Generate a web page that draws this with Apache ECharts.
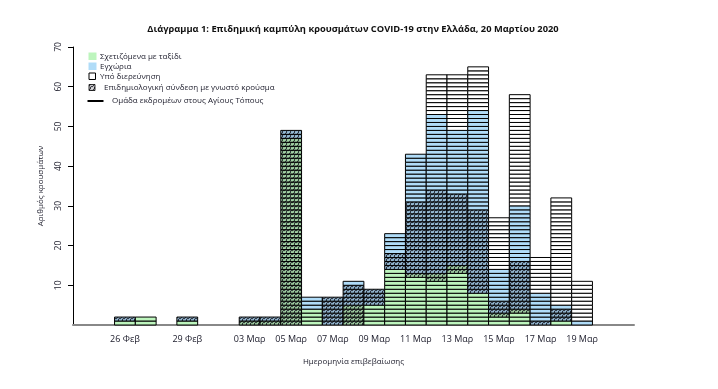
<!DOCTYPE html>
<html>
<head>
<meta charset="utf-8">
<script src="https://cdn.jsdelivr.net/npm/echarts@6/dist/echarts.min.js"></script>
<style>html,body{margin:0;padding:0;background:#fff}#c{width:718px;height:389px}</style>
</head>
<body>
<div id="c"></div>
<script>
// ---- data ----
const days = ['26 Φεβ','27 Φεβ','28 Φεβ','29 Φεβ','01 Μαρ','02 Μαρ','03 Μαρ','04 Μαρ','05 Μαρ','06 Μαρ','07 Μαρ','08 Μαρ','09 Μαρ','10 Μαρ','11 Μαρ','12 Μαρ','13 Μαρ','14 Μαρ','15 Μαρ','16 Μαρ','17 Μαρ','18 Μαρ','19 Μαρ'];
const tickLabels = ['26 Φεβ','29 Φεβ','03 Μαρ','05 Μαρ','07 Μαρ','09 Μαρ','11 Μαρ','13 Μαρ','15 Μαρ','17 Μαρ','19 Μαρ'];
// cases per day, in stacking order bottom -> top
const travel       = [1,2,0,1,0,0,0,0,0,4,0,0,5,14,12,11,13,8,2,3,0,1,0];   // travel related
const travelLinked = [0,0,0,0,0,0,1,1,47,0,0,5,0,0,1,2,2,0,1,1,0,0,0];      // travel, epi link
const localLinked  = [1,0,0,1,0,0,1,1,2,0,7,5,4,4,18,21,18,21,3,12,1,3,0];  // local, epi link
const local        = [0,0,0,0,0,0,0,0,0,3,0,1,0,5,12,19,16,25,8,14,7,1,1];  // local
const unknown      = [0,0,0,0,0,0,0,0,0,0,0,0,0,0,0,10,14,11,13,28,9,27,10]; // under investigation
const yTicks = [10,20,30,40,50,60,70];

const legendLabels = ['Σχετιζόμενα με ταξίδι','Εγχώρια','Υπό διερεύνηση','Επιδημιολογική σύνδεση με γνωστό κρούσμα','Ομάδα εκδρομέων στους Αγίους Τόπους'];

// ---- styles ----
const GREEN = '#bdf5bd', BLUE = '#b0dcf8', WHITE = '#ffffff';
function hatch(bg) {
  const c = document.createElement('canvas');
  c.width = 4; c.height = 4;
  const ctx = c.getContext('2d');
  ctx.fillStyle = bg; ctx.fillRect(0,0,4,4);
  ctx.strokeStyle = 'rgba(20,20,30,0.85)'; ctx.lineWidth = 1.2;
  ctx.beginPath();
  for (let k = -4; k <= 8; k += 3) { ctx.moveTo(k, 4); ctx.lineTo(k + 4, 0); }
  ctx.stroke();
  return {image: c, repeat: 'repeat'};
}
const fills = [GREEN, hatch(GREEN), hatch(BLUE), BLUE, WHITE];
const PAD_BEFORE = 2, PAD_AFTER = 2;
const cats = [];
for (let i = 0; i < PAD_BEFORE; i++) cats.push(' ' + i);
days.forEach(d => cats.push(d));
for (let i = 0; i < PAD_AFTER; i++) cats.push('  ' + i);

const data = days.map((d, i) => {
  const t = travel[i] + travelLinked[i] + localLinked[i] + local[i] + unknown[i];
  return [i + PAD_BEFORE, travel[i], travelLinked[i], localLinked[i], local[i], unknown[i], t];
});

const FONT = 'Open Sans';
const TXT = '#1b1b2a';
const chart = echarts.init(document.getElementById('c'));
chart.setOption({
  animation: false,
  grid: {left: 73, right: 718 - 634, top: 47, bottom: 389 - 325},
  xAxis: {
    type: 'category', data: cats, boundaryGap: true,
    axisLine: {lineStyle: {color: '#888', width: 2}},
    axisTick: {show: false},
    axisLabel: {
      interval: 0, margin: 10, fontFamily: FONT, fontSize: 9, color: TXT,
      formatter: v => tickLabels.indexOf(v) >= 0 ? v : ''
    },
    name: 'Ημερομηνία επιβεβαίωσης', nameLocation: 'middle', nameGap: 33,
    nameTextStyle: {fontFamily: FONT, fontSize: 8, color: TXT}
  },
  yAxis: {
    type: 'value', min: 0, max: 70, interval: 10,
    splitLine: {show: false},
    axisLine: {show: true, lineStyle: {color: '#000', width: 1}},
    axisTick: {show: true, length: 5, lineStyle: {color: '#000'}, customValues: yTicks},
    axisLabel: {rotate: 90, margin: 10, fontFamily: FONT, fontSize: 8.5, color: TXT, customValues: yTicks},
    name: 'Αριθμός κρουσμάτων', nameLocation: 'middle', nameGap: 28, nameRotate: 90,
    nameTextStyle: {fontFamily: FONT, fontSize: 8, color: TXT}
  },
  series: [{
    type: 'custom',
    data: data,
    encode: {x: 0, y: 6},
    renderItem: function (params, api) {
      const ci = api.value(0);
      const w = api.size([1, 0])[0];
      const children = [];
      let level = 0;
      for (let s = 0; s < 5; s++) {
        const n = api.value(s + 1);
        for (let k = 0; k < n; k++) {
          const p0 = api.coord([ci, level]);
          const p1 = api.coord([ci, level + 1]);
          children.push({
            type: 'rect',
            shape: {x: p0[0] - w / 2, y: p1[1], width: w, height: p0[1] - p1[1]},
            style: {fill: fills[s], stroke: '#000', lineWidth: 1}
          });
          level++;
        }
      }
      return {type: 'group', children: children};
    }
  }],
  graphic: [
    {type: 'text', style: {x: 353, y: 29.5, text: 'Διάγραμμα 1: Επιδημική καμπύλη κρουσμάτων COVID-19 στην Ελλάδα, 20 Μαρτίου 2020', font: 'bold 9.3px "Open Sans"', fill: '#111', align: 'center', verticalAlign: 'middle'}},
    {type: 'rect', shape: {x: 88.5, y: 52.5, width: 8, height: 7.5}, style: {fill: GREEN}},
    {type: 'text', style: {x: 100, y: 56.5, text: legendLabels[0], font: '8px "Open Sans"', fill: TXT, verticalAlign: 'middle'}},
    {type: 'rect', shape: {x: 88.5, y: 62.5, width: 8, height: 7.5}, style: {fill: BLUE}},
    {type: 'text', style: {x: 100, y: 66.5, text: legendLabels[1], font: '8px "Open Sans"', fill: TXT, verticalAlign: 'middle'}},
    {type: 'rect', shape: {x: 89, y: 73, width: 6.5, height: 6.5}, style: {fill: '#fff', stroke: '#000', lineWidth: 1}},
    {type: 'text', style: {x: 100, y: 76.5, text: legendLabels[2], font: '8px "Open Sans"', fill: TXT, verticalAlign: 'middle'}},
    {type: 'rect', shape: {x: 89, y: 84.5, width: 6, height: 6}, style: {fill: hatch('#ffffff'), stroke: '#000', lineWidth: 0.8}},
    {type: 'text', style: {x: 104, y: 88, text: legendLabels[3], font: '8px "Open Sans"', fill: TXT, verticalAlign: 'middle'}},
    {type: 'line', shape: {x1: 87.5, y1: 101, x2: 103.5, y2: 101}, style: {stroke: '#000', lineWidth: 2}},
    {type: 'text', style: {x: 112, y: 101, text: legendLabels[4], font: '8px "Open Sans"', fill: TXT, verticalAlign: 'middle'}}
  ]
});
</script>
</body>
</html>
